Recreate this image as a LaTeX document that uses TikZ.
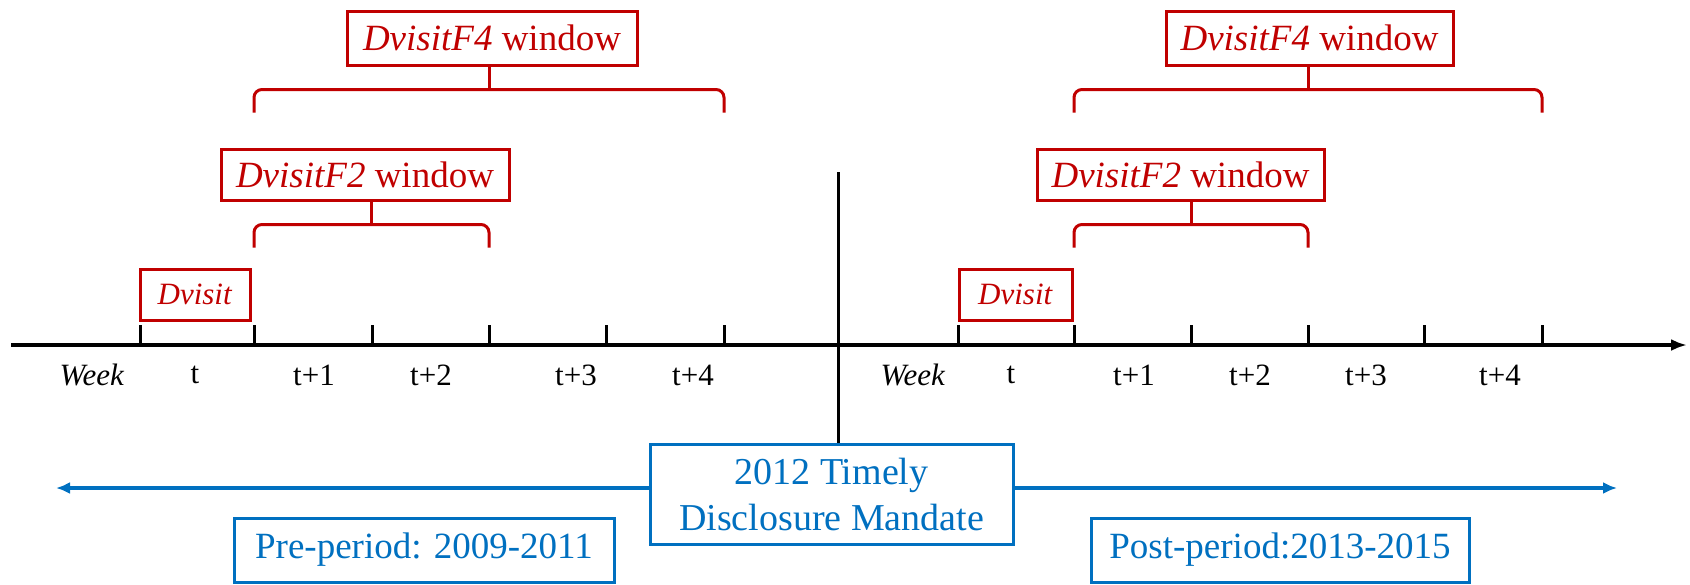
\documentclass[tikz,border=0pt]{standalone}
\usepackage{fontspec}
\setmainfont{Liberation Serif}
\usetikzlibrary{arrows.meta,calc}

\definecolor{winred}{RGB}{192,0,0}
\definecolor{perblue}{RGB}{0,112,192}

\tikzset{
  redbox/.style={draw=winred, line width=1.5pt, text=winred, inner sep=0pt,
    font=\fontsize{18.5}{22}\selectfont},
  bluebox/.style={draw=perblue, line width=1.5pt, text=perblue, inner sep=0pt,
    fill=white, align=center, font=\fontsize{18.5}{23}\selectfont},
  weeklbl/.style={inner sep=0pt, font=\fontsize{15.5}{18}\selectfont},
  brk/.style={draw=winred, line width=1.5pt},
  ticks/.style={line width=1.5pt},
  bluearrow/.style={draw=perblue, line width=1.8pt, -{Latex[length=7pt,width=6pt]}}
}

% bracket under a window box, from one tick to another
\newcommand{\window}[3]{%
  \coordinate (#1m) at ($(#2)!0.5!(#3)$);
  \draw[brk] (#1m |- #1.south) -- ++(0,23) coordinate (#1j);
  \draw[brk, rounded corners=4pt] ($(#2 |- #1j)+(0,23)$) |- (#1j) -| ($(#3 |- #1j)+(0,23)$);
}

\begin{document}
\begin{tikzpicture}[x=0.5pt, y=-0.5pt]
  \useasboundingbox (0,0) rectangle (1690,584);

  % Define nodes
  \coordinate (axs) at (11,345);
  \coordinate (axe) at (1687,345);
  \coordinate (cut) at (838,172);
  \foreach \x [count=\i] in {140,254,372,489,606,724}
    \coordinate (a\i) at (\x,345);
  \foreach \x [count=\i] in {958,1074,1191,1308,1424,1542}
    \coordinate (b\i) at (\x,345);

  \node[weeklbl] (weekA) at (92,375) {\textit{Week}};
  \node[weeklbl] (tA0) at (195,375) {t};
  \node[weeklbl] (tA1) at (314,375) {t+1};
  \node[weeklbl] (tA2) at (431,375) {t+2};
  \node[weeklbl] (tA3) at (576,375) {t+3};
  \node[weeklbl] (tA4) at (693,375) {t+4};
  \node[weeklbl] (weekB) at (913,375) {\textit{Week}};
  \node[weeklbl] (tB0) at (1011,375) {t};
  \node[weeklbl] (tB1) at (1134,375) {t+1};
  \node[weeklbl] (tB2) at (1250,375) {t+2};
  \node[weeklbl] (tB3) at (1366,375) {t+3};
  \node[weeklbl] (tB4) at (1500,375) {t+4};

  \node[redbox, minimum width=55pt, minimum height=25.5pt,
    font=\fontsize{15.5}{18}\selectfont] (dva) at (195,294.5) {\textit{Dvisit}};
  \node[redbox, minimum width=56.5pt, minimum height=25.5pt,
    font=\fontsize{15.5}{18}\selectfont] (dvb) at (1015.5,294.5) {\textit{Dvisit}};
  \node[redbox, minimum width=144pt, minimum height=25.5pt] (f2a) at (365,174.5) {\textit{DvisitF2} window};
  \node[redbox, minimum width=145pt, minimum height=27pt] (f4a) at (492,38) {\textit{DvisitF4} window};
  \node[redbox, minimum width=143.5pt, minimum height=25.5pt] (f2b) at (1180.5,174.5) {\textit{DvisitF2} window};
  \node[redbox, minimum width=143.5pt, minimum height=27pt] (f4b) at (1309.5,38) {\textit{DvisitF4} window};

  \node[bluebox, minimum width=181.5pt, minimum height=50pt,
    font=\fontsize{19}{23}\selectfont] (mandate) at (831.5,494) {2012 Timely\\Disclosure Mandate};
  \node[bluebox, minimum width=190pt, minimum height=32pt] (pre) at (424,550) {Pre-period: 2009-2011};
  \node[bluebox, minimum width=189pt, minimum height=32pt] (post) at (1280,550) {Post-period:2013-2015};
  \coordinate (pretip) at (56,488);
  \coordinate (posttip) at (1617,488);

  % Connect the nodes
  \draw[line width=2pt, -{Latex[length=8pt,width=6pt]}] (axs) -- (axe);
  \foreach \i in {1,...,6} {
    \draw[ticks] (a\i) -- ++(0,-20);
    \draw[ticks] (b\i) -- ++(0,-20);
  }
  \draw[ticks] (cut) -- (cut |- mandate.north);

  \window{f2a}{a2}{a4}
  \window{f4a}{a2}{a6}
  \window{f2b}{b2}{b4}
  \window{f4b}{b2}{b6}

  \draw[bluearrow] (mandate.west |- pretip) -- (pretip);
  \draw[bluearrow] (mandate.east |- posttip) -- (posttip);

\end{tikzpicture}
\end{document}
